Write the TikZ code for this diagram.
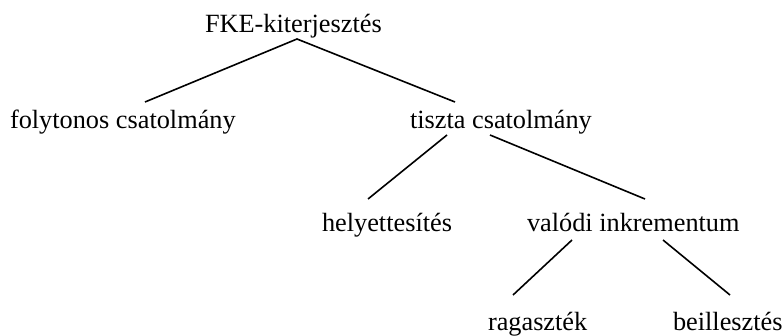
\documentclass[tikz,border=0pt]{standalone}
\usepackage{fontspec}
\setmainfont{Liberation Serif}
\begin{document}
\begin{tikzpicture}[x=1pt,y=-1pt,
  lbl/.style={anchor=base west,inner sep=0pt,outer sep=0pt,font=\fontsize{26.3}{30}\selectfont},
  edge/.style={line width=1.6pt}]
\useasboundingbox (0,0) rectangle (784,335);
\node[lbl] (fke) at (205,32) {FKE-kiterjesztés};
\node[lbl] (fol) at (10,128) {folytonos csatolmány};
\node[lbl] (tis) at (410,128) {tiszta csatolmány};
\node[lbl] (hely) at (322,231) {helyettesítés};
\node[lbl] (val) at (527,231) {valódi inkrementum};
\node[lbl] (rag) at (488,330) {ragaszték};
\node[lbl] (beil) at (673,330) {beillesztés};
\coordinate (fkeB) at (297,39);
\coordinate (folT) at (145,102);
\coordinate (tisT) at (455,102);
\coordinate (tisBL) at (447,135);
\coordinate (tisBR) at (490,135);
\coordinate (helyT) at (368,199);
\coordinate (valT) at (645,199);
\coordinate (valBL) at (572,240);
\coordinate (valBR) at (663,240);
\coordinate (ragT) at (513,295);
\coordinate (beilT) at (730,295);
\draw[edge] (folT) -- (fkeB) -- (tisT);
\draw[edge] (tisBL) -- (helyT);
\draw[edge] (tisBR) -- (valT);
\draw[edge] (valBL) -- (ragT);
\draw[edge] (valBR) -- (beilT);
\end{tikzpicture}
\end{document}
